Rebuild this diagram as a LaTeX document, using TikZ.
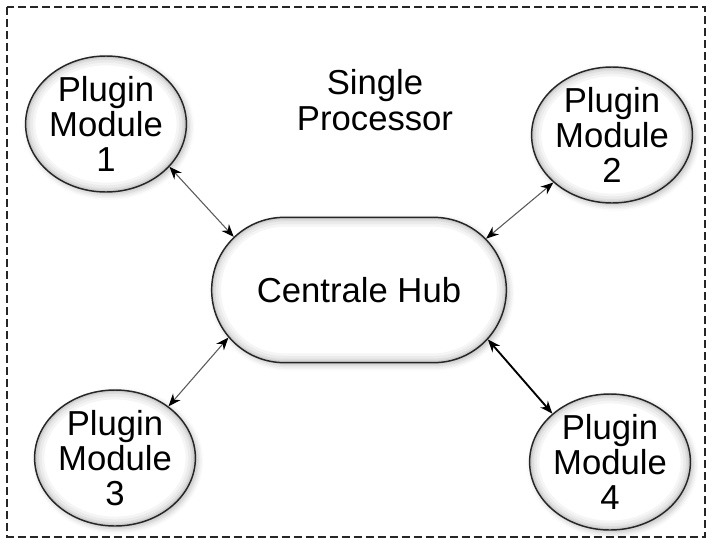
\documentclass[tikz,border=0pt]{standalone}
\usepackage{fontspec}
\setmainfont{Liberation Sans}
\usetikzlibrary{shapes,arrows.meta,shadows.blur}
\newcommand{\pluginnode}[3]{
  \node[plugin] (#1) at (#2) {Plugin\\Module\\#3};
}
\tikzset{
  bigtext/.style = {font=\fontsize{26}{26.5}\selectfont, align=center},
  soft/.style    = {blur shadow={shadow xshift=2pt, shadow yshift=-2pt,
                                 shadow blur radius=4pt, shadow opacity=25}},
  plugin/.style  = {ellipse, bigtext, soft, draw=black!85, line width=1.1pt,
                    fill=white, inner sep=0pt,
                    minimum width=120pt, minimum height=102pt,
                    path picture={
                      \foreach \w/\c in {14/4, 10/8, 6/13, 3/20}
                        \draw[line width=\w pt, black!\c]
                          (path picture bounding box.center) ellipse [x radius=60pt, y radius=51pt];
                    }},
  hub/.style     = {rounded rectangle, bigtext, soft, draw=black!85, line width=1.1pt,
                    fill=white, inner sep=0pt,
                    minimum width=221pt, minimum height=109pt,
                    path picture={
                      \foreach \w/\c in {14/4, 10/8, 6/13, 3/20}
                        \draw[line width=\w pt, black!\c, rounded corners=54.5pt]
                          (path picture bounding box.south west) rectangle (path picture bounding box.north east);
                    }},
  link/.style    = {{Stealth[length=9.5pt, width=7.5pt, black]}-{Stealth[length=9.5pt, width=7.5pt, black]},
                    draw=black!65, line width=0.8pt},
  strong/.style  = {draw=black, line width=1.4pt},
  frame/.style   = {draw=black!85, line width=1.5pt, dash pattern=on 6pt off 3pt}
}

\begin{document}
\begin{tikzpicture}[x=0.75pt, y=-0.75pt]
  \useasboundingbox (0,0) rectangle (712,539);
  \draw[frame] (7,7) rectangle (705,536.5);

  \node[bigtext] (proc) at (375,100) {Single\\Processor};
  \node[hub] (hub) at (359,290) {Centrale Hub};

  \pluginnode{m1}{106,124}{1}
  \pluginnode{m2}{612,135}{2}
  \pluginnode{m3}{115,458}{3}
  \pluginnode{m4}{610,462}{4}

  \draw[link] (m1.-34) -- (hub.157);
  \draw[link] (m2.-141) -- (hub.22);
  \draw[link] (m3.44) -- (hub.200);
  \draw[link, strong] (hub.-21) -- (m4.140);
\end{tikzpicture}
\end{document}
